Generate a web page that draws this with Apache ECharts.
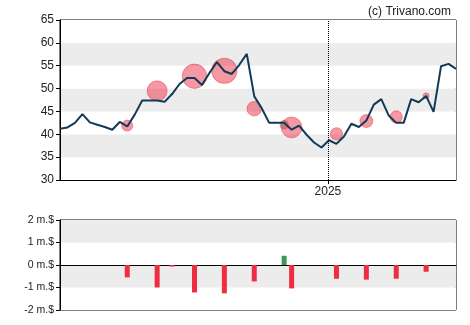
<!DOCTYPE html>
<html>
<head>
<meta charset="utf-8">
<script src="https://cdn.jsdelivr.net/npm/echarts@6/dist/echarts.min.js"></script>
<style>
  html, body { margin: 0; padding: 0; background: #fff; }
  #chart { width: 470px; height: 325px; }
</style>
</head>
<body>
<div id="chart"></div>
<script>
// Weekly closing prices (USD), one per week starting 2024-04-25
const closes = [
  41.2, 41.5, 42.5, 44.4, 42.6, 42.1, 41.6, 41.0, 42.7, 41.7,
  44.3, 47.4, 47.4, 47.4, 47.1, 48.8, 51.0, 52.3, 52.3, 50.8,
  53.4, 55.8, 53.8, 53.2, 55.2, 57.6, 48.3, 45.7, 42.5, 42.5,
  42.5, 41.0, 41.9, 39.9, 38.2, 37.1, 38.7, 37.9, 39.5, 42.3,
  41.6, 43.0, 46.5, 47.7, 44.1, 42.5, 42.5, 47.7, 47.0, 48.4,
  44.9, 54.9, 55.4, 54.3
];

// Insider transactions: week index, trade price, net amount in million $
const tradeWeek   = [9, 13, 15, 18, 22, 26, 30, 31, 37, 41, 45, 49];
const tradePrice  = [41.9, 49.5, 48.8, 52.7, 53.9, 45.6, 42.1, 41.5, 40.1, 42.9, 43.8, 48.4];
const tradeAmount = [-0.55, -1.0, -0.07, -1.22, -1.26, -0.73, 0.41, -1.04, -0.61, -0.65, -0.61, -0.30];

const priceTicks = { min: 30, max: 65, step: 5 };
const amountTicks = { min: -2, max: 2, step: 1 };
const yearMark = new Date(2025, 0, 1).getTime();

const DAY = 86400000;
const startDate = new Date(2024, 3, 25).getTime();
const weeks = closes.map((_, i) => startDate + i * 7 * DAY);

const SELL = '#ee2d43';
const BUY = '#3b9a5a';
const font = 'Arial, "Liberation Sans", sans-serif';

const lineData = closes.map((v, i) => [weeks[i], v]);
const bubbleData = tradeWeek.map((w, k) => [weeks[w], tradePrice[k], tradeAmount[k]]);
const barData = tradeWeek.map((w, k) => [weeks[w], tradeAmount[k]]);

const chart = echarts.init(document.getElementById('chart'), null, { renderer: 'canvas' });

// x axes run on timestamps (ms) so the year boundary can carry its own tick and label
chart.setOption({
  animation: false,
  backgroundColor: '#fff',
  title: {
    text: '(c) Trivano.com',
    right: 14, top: 1,
    textStyle: { fontFamily: font, fontSize: 12, fontWeight: 'normal', color: '#222' }
  },
  grid: [
    { left: 60, top: 20, width: 396, height: 160, show: true, borderColor: '#000', borderWidth: 1, backgroundColor: 'transparent' },
    { left: 60, top: 220, width: 396, height: 90, show: true, borderColor: '#000', borderWidth: 1, backgroundColor: 'transparent' }
  ],
  xAxis: [
    {
      type: 'value', gridIndex: 0,
      min: weeks[0], max: weeks[weeks.length - 1],
      axisLine: { lineStyle: { color: '#000', width: 1 } },
      axisTick: { show: true, length: 4, customValues: [yearMark], lineStyle: { color: '#000' } },
      axisLabel: {
        customValues: [yearMark], margin: 6,
        formatter: v => String(new Date(v).getFullYear()),
        fontFamily: font, fontSize: 12, color: '#222'
      },
      splitLine: { show: false }
    },
    {
      type: 'value', gridIndex: 1,
      min: weeks[0], max: weeks[weeks.length - 1],
      axisLine: { onZero: true, lineStyle: { color: '#000', width: 1 } },
      axisTick: { show: false },
      axisLabel: { show: false },
      splitLine: { show: false }
    }
  ],
  yAxis: [
    {
      type: 'value', gridIndex: 0,
      min: priceTicks.min, max: priceTicks.max, interval: priceTicks.step,
      axisLine: { show: true, lineStyle: { color: '#000' } },
      axisTick: { show: true, length: 4, lineStyle: { color: '#000' } },
      axisLabel: { fontFamily: font, fontSize: 12, color: '#222', margin: 6 },
      splitLine: { show: false },
      splitArea: { show: true, areaStyle: { color: ['#ffffff', '#ececec'] } }
    },
    {
      type: 'value', gridIndex: 1,
      min: amountTicks.min, max: amountTicks.max, interval: amountTicks.step,
      axisLine: { show: true, lineStyle: { color: '#000' } },
      axisTick: { show: true, length: 4, lineStyle: { color: '#000' } },
      axisLabel: { fontFamily: font, fontSize: 10.5, color: '#222', margin: 6, formatter: v => v + ' m.$' },
      splitLine: { show: false },
      splitArea: { show: true, areaStyle: { color: ['#ffffff', '#ececec'] } }
    }
  ],
  series: [
    {
      name: 'Insider trades',
      type: 'scatter',
      xAxisIndex: 0, yAxisIndex: 0,
      z: 2,
      data: bubbleData,
      symbolSize: d => Math.abs(d[2]) * 20,
      itemStyle: {
        color: p => p.data[2] >= 0 ? 'rgba(59,154,90,0.65)' : 'rgba(236,40,62,0.6)',
        borderColor: 'rgba(228,36,58,0.55)',
        borderWidth: 1
      }
    },
    {
      name: 'Close',
      type: 'line',
      xAxisIndex: 0, yAxisIndex: 0,
      z: 3,
      data: lineData,
      showSymbol: false,
      lineStyle: { color: '#123a56', width: 2 },
      markLine: {
        silent: true,
        symbol: 'none',
        label: { show: false },
        lineStyle: { color: '#000', type: 'dotted', width: 1 },
        data: [{ xAxis: yearMark }]
      }
    },
    {
      name: 'Net amount',
      type: 'bar',
      xAxisIndex: 1, yAxisIndex: 1,
      barWidth: 5,
      data: barData,
      itemStyle: { color: p => p.data[1] >= 0 ? BUY : SELL }
    }
  ]
});
</script>
</body>
</html>
